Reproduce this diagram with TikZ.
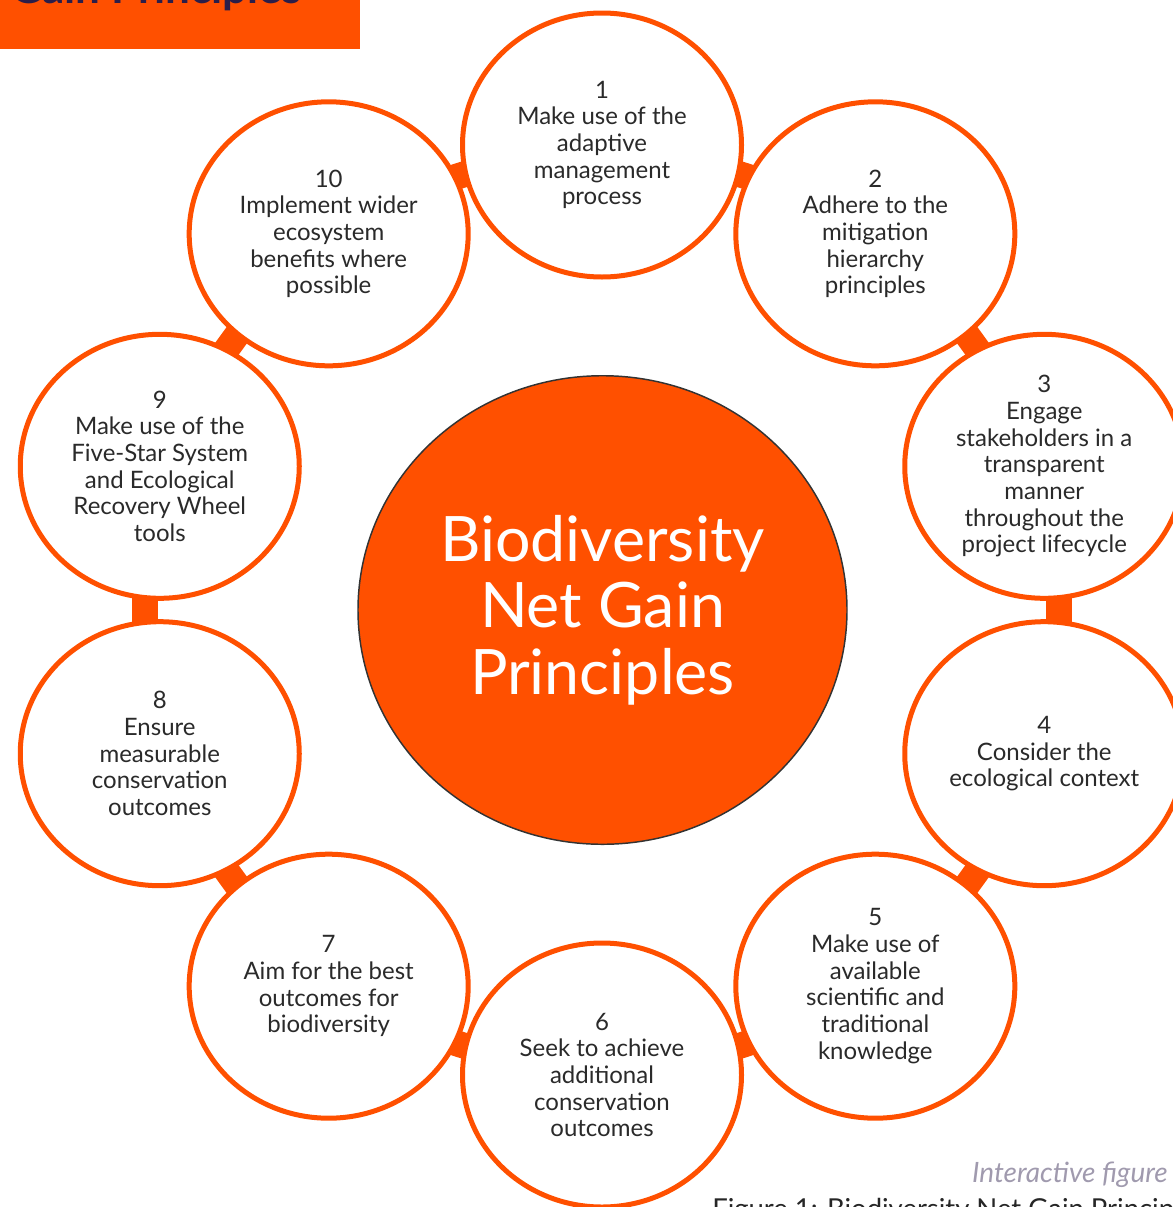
\documentclass[tikz,border=0pt]{standalone}
\usepackage{fontspec}
\setmainfont{Lato}
\usetikzlibrary{shapes.geometric}
\definecolor{bng}{HTML}{FF5000}
\definecolor{txt}{HTML}{2A2A2A}
\definecolor{navy}{HTML}{2B1E4A}
\definecolor{note}{HTML}{A09AAE}
\begin{document}
\begin{tikzpicture}[x=0.75pt,y=-0.75pt,
  principle/.style={ellipse, draw=bng, line width=3.75pt, fill=white,
    minimum width=209.25pt, minimum height=198pt, inner sep=0pt,
    align=center, text=txt, font=\fontsize{18pt}{20pt}\selectfont},
  link/.style={rectangle, fill=bng, minimum width=19.5pt, minimum height=37.5pt, inner sep=0pt},
  hub/.style={ellipse, draw=black!80, line width=1.1pt, fill=bng,
    minimum width=366.75pt, minimum height=351.4pt, inner sep=0pt,
    align=center, text=white, font=\fontsize{47pt}{50pt}\selectfont}
]
\useasboundingbox (0,0) rectangle (1172,1207);

% banner
\node[fill=bng, anchor=north west, minimum width=270pt, minimum height=36.75pt, inner sep=0pt] (banner) at (0,0) {};
\node[anchor=base west, text=navy, font=\bfseries\fontsize{33pt}{36pt}\selectfont, inner sep=0pt] (bannertext) at (10,3) {Gain Principles};

% links between principles
\foreach \k in {1,...,10} {
  \pgfmathsetmacro\a{72-36*(\k-1)}
  \node[link, rotate=\a] (link\k) at ({602+457*cos(\a)},{610-457*sin(\a)}) {};
}

% principles
\node[principle] (p1) at ({602+465*cos(90)},{610-465*sin(90)}) {1\\Make use of the\\adaptive\\management\\process};
\node[principle] (p2) at ({602+465*cos(54)},{610-465*sin(54)}) {2\\Adhere to the\\mitigation\\hierarchy\\principles};
\node[principle] (p3) at ({602+465*cos(18)},{610-465*sin(18)}) {3\\Engage\\stakeholders in a\\transparent\\manner\\throughout the\\project lifecycle};
\node[principle] (p4) at ({602+465*cos(-18)},{610-465*sin(-18)}) {4\\Consider the\\ecological context};
\node[principle] (p5) at ({602+465*cos(-54)},{610-465*sin(-54)}) {5\\Make use of\\available\\scientific and\\traditional\\knowledge};
\node[principle] (p6) at ({602+465*cos(-90)},{610-465*sin(-90)}) {6\\Seek to achieve\\additional\\conservation\\outcomes};
\node[principle] (p7) at ({602+465*cos(-126)},{610-465*sin(-126)}) {7\\Aim for the best\\outcomes for\\biodiversity};
\node[principle] (p8) at ({602+465*cos(-162)},{610-465*sin(-162)}) {8\\Ensure\\measurable\\conservation\\outcomes};
\node[principle] (p9) at ({602+465*cos(162)},{610-465*sin(162)}) {9\\Make use of the\\Five-Star System\\and Ecological\\Recovery Wheel\\tools};
\node[principle] (p10) at ({602+465*cos(126)},{610-465*sin(126)}) {10\\Implement wider\\ecosystem\\benefits where\\possible};

% hub
\node[hub] (hub) at (602.5,610) {Biodiversity\\Net Gain\\Principles};

% footer texts
\node[anchor=base east, text=note, font=\itshape\fontsize{21pt}{24pt}\selectfont, inner sep=0pt] (interactive) at (1168,1182) {Interactive figure};
\node[anchor=base west, text=black!85, font=\fontsize{20.6pt}{24pt}\selectfont, inner sep=0pt] (caption) at (712,1218) {Figure 1: Biodiversity Net Gain Principles};
\end{tikzpicture}
\end{document}
